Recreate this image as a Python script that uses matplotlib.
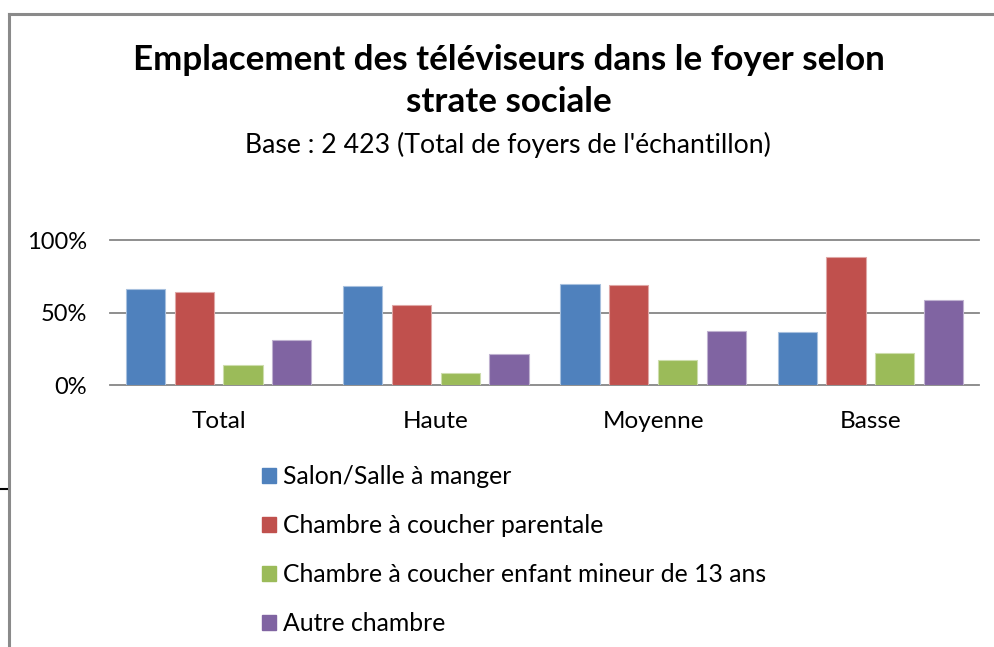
import matplotlib
matplotlib.use("Agg")
import matplotlib.pyplot as plt
from matplotlib.lines import Line2D
from matplotlib.patches import Patch
import numpy as np

plt.rcParams['font.family'] = ['Lato', 'DejaVu Sans']

categories = ["Total", "Haute", "Moyenne", "Basse"]
series_names = ["Salon/Salle à manger", "Chambre à coucher parentale",
                "Chambre à coucher enfant mineur de 13 ans", "Autre chambre"]
salon = [66.7, 68.4, 70.2, 36.4]
parentale = [64.1, 55.2, 69.2, 88.9]
enfant = [13.6, 8.1, 17.3, 22.3]
autre = [31.3, 21.4, 37.3, 58.7]
yticks = [0, 50, 100]
ytick_labels = ["0%", "50%", "100%"]
colors = ["#4F81BD", "#C0504D", "#9BBB59", "#8064A2"]
edges = ["#A7C0DE", "#DFA7A6", "#CDDDAC", "#BFB1D0"]

W, H = 994, 647
fig = plt.figure(figsize=(W / 100, H / 100), dpi=100)

def fx(px):
    return px / W

def fy(py):
    return 1 - py / H

ax = fig.add_axes([fx(110), fy(385), fx(979) - fx(110), fy(240.5) - fy(385)])
x = np.arange(len(categories))
pitch = 0.2244
width = 0.18
for i, (vals, name) in enumerate(zip([salon, parentale, enfant, autre], series_names)):
    ax.bar(x + (i - 1.5) * pitch, vals, width=width, color=colors[i],
           edgecolor=edges[i], linewidth=0.8, label=name, zorder=3)

ax.set_xlim(-0.5, len(categories) - 0.5)
ax.set_ylim(0, 100)
ax.set_yticks(yticks)
ax.set_yticklabels(ytick_labels)
for yv in yticks:
    ax.axhline(yv, color="#868686", linewidth=1.3, zorder=1, clip_on=False)
for s in ax.spines.values():
    s.set_visible(False)
ax.tick_params(axis='y', length=0, pad=16.5, labelsize=17, labelcolor="#000000")
ax.set_xticks(x)
ax.set_xticklabels(categories)
ax.tick_params(axis='x', length=0, pad=19, labelsize=17.5)

fig.text(fx(509), fy(60), "Emplacement des téléviseurs dans le foyer selon",
         ha="center", va="center", fontsize=25.2, fontweight="bold")
fig.text(fx(509), fy(102), "strate sociale",
         ha="center", va="center", fontsize=25.2, fontweight="bold")
fig.text(fx(508), fy(145), "Base : 2 423 (Total de foyers de l'échantillon)",
         ha="center", va="center", fontsize=19.2)

handles = [Patch(facecolor=c, edgecolor=c) for c in colors]
leg = fig.legend(handles, series_names, loc="upper left",
                 bbox_to_anchor=(fx(250), fy(453)), frameon=False,
                 fontsize=17.8, labelspacing=1.05, handlelength=0.57,
                 handleheight=0.57, handletextpad=0.28, borderpad=0)

# chart frame
fig.add_artist(Line2D([fx(9), 1], [fy(14), fy(14)], color="#8A8A8A", linewidth=2.2))
fig.add_artist(Line2D([fx(9), fx(9)], [fy(14), 0], color="#8A8A8A", linewidth=2.2))
fig.add_artist(Line2D([0, fx(7)], [fy(489), fy(489)], color="#000000", linewidth=1.5))

fig.savefig("out.png", dpi=100)
